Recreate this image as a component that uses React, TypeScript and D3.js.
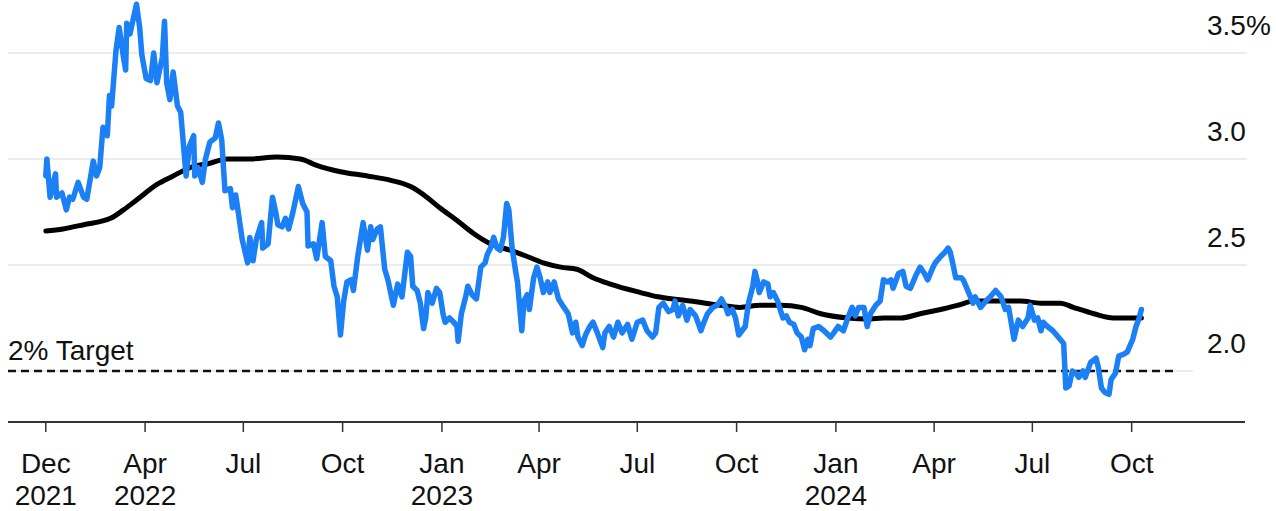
import React, { useEffect, useRef } from "react";
import * as d3 from "d3";

// day offsets from 2021-12-30 and the value in percent
const startDate = Date.UTC(2021, 11, 30);

const breakeven: [number, number][] = [
  [0, 2.92], [1, 3.0], [4, 2.82], [9, 2.93], [10, 2.82], [15, 2.84], [19, 2.76], [22, 2.82], [25, 2.81], [30, 2.89],
  [35, 2.82], [38, 2.81], [44, 2.99], [47, 2.92], [50, 2.96], [53, 3.15], [57, 3.11], [59, 3.3], [61, 3.25], [65, 3.51],
  [68, 3.62], [72, 3.48], [74, 3.42], [75, 3.64], [78, 3.59], [84, 3.73], [87, 3.62], [89, 3.49], [93, 3.38], [97, 3.37],
  [100, 3.5], [103, 3.36], [108, 3.48], [110, 3.65], [112, 3.36], [115, 3.28], [118, 3.41], [122, 3.25], [125, 3.22], [127, 3.1],
  [130, 2.92], [133, 3.06], [137, 3.11], [138, 2.92], [141, 2.96], [145, 2.89], [148, 3.0], [152, 3.08], [157, 3.1], [160, 3.17],
  [163, 3.09], [166, 2.85], [171, 2.86], [173, 2.77], [176, 2.83], [178, 2.76], [182, 2.62], [187, 2.51], [189, 2.63], [192, 2.52],
  [195, 2.62], [200, 2.7], [201, 2.58], [206, 2.6], [210, 2.82], [213, 2.75], [215, 2.69], [219, 2.68], [222, 2.72], [225, 2.67],
  [229, 2.75], [234, 2.87], [238, 2.79], [242, 2.75], [243, 2.59], [248, 2.6], [251, 2.53], [256, 2.7], [259, 2.54], [264, 2.52],
  [267, 2.4], [270, 2.35], [273, 2.17], [276, 2.33], [279, 2.42], [283, 2.43], [285, 2.38], [289, 2.54], [294, 2.7], [298, 2.57],
  [301, 2.68], [303, 2.62], [307, 2.67], [310, 2.68], [314, 2.48], [317, 2.43], [322, 2.31], [326, 2.41], [330, 2.35], [335, 2.56],
  [338, 2.54], [340, 2.4], [344, 2.38], [347, 2.32], [350, 2.2], [352, 2.25], [354, 2.37], [358, 2.32], [362, 2.39], [365, 2.37],
  [368, 2.27], [370, 2.23], [374, 2.25], [378, 2.23], [381, 2.21], [382, 2.14], [385, 2.27], [389, 2.35], [391, 2.4], [395, 2.36],
  [399, 2.34], [403, 2.49], [407, 2.51], [409, 2.55], [412, 2.58], [415, 2.63], [418, 2.58], [421, 2.57], [424, 2.63], [427, 2.79],
  [429, 2.76], [432, 2.58], [435, 2.48], [437, 2.42], [441, 2.19], [443, 2.33], [446, 2.36], [448, 2.29], [452, 2.44], [455, 2.49],
  [458, 2.44], [461, 2.37], [465, 2.42], [467, 2.37], [471, 2.42], [475, 2.34], [480, 2.3], [484, 2.27], [488, 2.18], [491, 2.23],
  [493, 2.16], [497, 2.12], [500, 2.17], [504, 2.21], [507, 2.23], [511, 2.18], [516, 2.11], [518, 2.18], [522, 2.21], [526, 2.16],
  [530, 2.23], [534, 2.18], [539, 2.22], [543, 2.15], [548, 2.23], [553, 2.24], [557, 2.19], [562, 2.16], [565, 2.18], [568, 2.3],
  [572, 2.32], [577, 2.28], [581, 2.29], [583, 2.33], [586, 2.26], [590, 2.31], [594, 2.24], [597, 2.29], [602, 2.26], [607, 2.19],
  [609, 2.22], [613, 2.27], [618, 2.3], [622, 2.31], [626, 2.34], [630, 2.3], [632, 2.27], [636, 2.29], [639, 2.25], [642, 2.17],
  [645, 2.19], [648, 2.21], [651, 2.32], [655, 2.4], [657, 2.47], [659, 2.43], [661, 2.37], [665, 2.42], [669, 2.41], [671, 2.35],
  [674, 2.37], [678, 2.33], [681, 2.28], [683, 2.25], [686, 2.26], [689, 2.23], [693, 2.22], [696, 2.18], [700, 2.16], [703, 2.1],
  [706, 2.15], [708, 2.12], [711, 2.2], [716, 2.21], [721, 2.19], [727, 2.16], [730, 2.18], [734, 2.21], [739, 2.19], [743, 2.25],
  [747, 2.3], [750, 2.26], [753, 2.3], [758, 2.3], [761, 2.21], [764, 2.27], [769, 2.31], [773, 2.33], [776, 2.43], [780, 2.42],
  [783, 2.43], [785, 2.39], [790, 2.46], [794, 2.47], [797, 2.4], [801, 2.39], [806, 2.45], [810, 2.49], [814, 2.46], [817, 2.43],
  [822, 2.49], [824, 2.51], [829, 2.54], [833, 2.56], [836, 2.58], [838, 2.56], [841, 2.49], [843, 2.44], [848, 2.44], [850, 2.43],
  [855, 2.37], [859, 2.32], [861, 2.35], [866, 2.3], [871, 2.33], [875, 2.35], [880, 2.38], [885, 2.35], [889, 2.29], [892, 2.3],
  [897, 2.15], [901, 2.24], [905, 2.21], [910, 2.25], [912, 2.31], [916, 2.24], [919, 2.25], [922, 2.19], [924, 2.23], [928, 2.21],
  [933, 2.19], [938, 2.16], [943, 2.13], [945, 1.92], [948, 1.93], [951, 2.0], [954, 1.99], [957, 1.97], [961, 2.0], [963, 1.97],
  [968, 2.04], [973, 2.06], [975, 2.02], [978, 1.92], [981, 1.9], [985, 1.89], [987, 1.96], [991, 1.99], [994, 2.07], [999, 2.08],
  [1002, 2.09], [1007, 2.15], [1010, 2.21], [1013, 2.25], [1015, 2.29],
];

const movingAvg: [number, number][] = [
  [0, 2.66], [16, 2.67], [35, 2.69], [60, 2.72], [72, 2.76], [85, 2.81], [103, 2.88], [118, 2.92], [134, 2.96], [152, 2.98],
  [168, 3.0], [189, 3.0], [214, 3.01], [236, 3.0], [251, 2.97], [273, 2.94], [298, 2.92], [319, 2.9], [338, 2.87], [353, 2.82],
  [365, 2.77], [381, 2.71], [396, 2.65], [412, 2.6], [430, 2.57], [446, 2.54], [461, 2.51], [477, 2.49], [492, 2.48], [507, 2.44],
  [523, 2.41], [551, 2.37], [567, 2.35], [581, 2.34], [597, 2.33], [625, 2.31], [643, 2.3], [662, 2.31], [681, 2.31], [700, 2.3],
  [718, 2.27], [743, 2.25], [761, 2.245], [776, 2.25], [792, 2.25], [810, 2.27], [829, 2.29], [845, 2.31], [860, 2.33], [878, 2.33],
  [903, 2.33], [922, 2.32], [940, 2.32], [952, 2.3], [971, 2.27], [989, 2.25], [1015, 2.25],
];

const yTicks = [2.5, 3.0, 3.5];
const yLabels = ["2.0", "2.5", "3.0", "3.5%"];
const yLabelValues = [2.0, 2.5, 3.0, 3.5];
const targetValue = 2.0;

const xTickDates = [
  Date.UTC(2021, 11, 30), Date.UTC(2022, 3, 1), Date.UTC(2022, 6, 1), Date.UTC(2022, 9, 1),
  Date.UTC(2023, 0, 1), Date.UTC(2023, 3, 1), Date.UTC(2023, 6, 1), Date.UTC(2023, 9, 1),
  Date.UTC(2024, 0, 1), Date.UTC(2024, 3, 1), Date.UTC(2024, 6, 1), Date.UTC(2024, 9, 1),
];
const xTickMonths = ["Dec", "Apr", "Jul", "Oct", "Jan", "Apr", "Jul", "Oct", "Jan", "Apr", "Jul", "Oct"];
const xTickYears = ["2021", "2022", "", "", "2023", "", "", "", "2024", "", "", ""];

const DAY = 86400000;
const toDate = (d: number) => new Date(startDate + d * DAY);

export default function App() {
  const ref = useRef<SVGSVGElement>(null);

  useEffect(() => {
    const W = 1276, H = 511;
    const left = 8, right = 1245, axisY = 422;
    const font = "'Liberation Sans', Arial, sans-serif";
    const fs = 28;

    const svg = d3.select(ref.current);
    svg.selectAll("*").remove();

    const x = d3.scaleUtc()
      .domain([new Date(Date.UTC(2021, 10, 25)), new Date(Date.UTC(2025, 0, 14))])
      .range([left, right]);
    const y = d3.scaleLinear().domain([2, 3.5]).range([371, 53]);

    // gridlines
    svg.append("g").selectAll("line").data(yTicks).join("line")
      .attr("x1", left).attr("x2", 1247)
      .attr("y1", d => y(d)).attr("y2", d => y(d))
      .attr("stroke", "#e6e6e6").attr("stroke-width", 1.5);
    svg.append("line")
      .attr("x1", left).attr("x2", 1193)
      .attr("y1", y(targetValue)).attr("y2", y(targetValue))
      .attr("stroke", "#e6e6e6").attr("stroke-width", 1.5);

    // y labels
    svg.append("g").selectAll("text").data(yLabelValues).join("text")
      .attr("x", 1207).attr("y", d => y(d) - 18)
      .attr("font-family", font).attr("font-size", fs).attr("fill", "#111")
      .text((d, i) => yLabels[i]);

    // target
    svg.append("line")
      .attr("x1", left).attr("x2", 1178)
      .attr("y1", y(targetValue)).attr("y2", y(targetValue))
      .attr("stroke", "#111").attr("stroke-width", 2.5)
      .attr("stroke-dasharray", "8,5");
    svg.append("text")
      .attr("x", left).attr("y", y(targetValue) - 11)
      .attr("font-family", font).attr("font-size", fs).attr("fill", "#111")
      .text("2% Target");

    // x axis
    svg.append("line")
      .attr("x1", left).attr("x2", right)
      .attr("y1", axisY).attr("y2", axisY)
      .attr("stroke", "#333").attr("stroke-width", 2);
    const ticks = svg.append("g").selectAll("g").data(xTickDates).join("g")
      .attr("transform", d => `translate(${x(new Date(d))},0)`);
    ticks.append("line")
      .attr("y1", axisY).attr("y2", axisY + 10)
      .attr("stroke", "#333").attr("stroke-width", 1.5);
    ticks.append("text")
      .attr("y", 473).attr("text-anchor", "middle")
      .attr("font-family", font).attr("font-size", fs).attr("fill", "#111")
      .text((d, i) => xTickMonths[i]);
    ticks.append("text")
      .attr("y", 505).attr("text-anchor", "middle")
      .attr("font-family", font).attr("font-size", fs).attr("fill", "#111")
      .text((d, i) => xTickYears[i]);

    // lines
    const smooth = d3.line<[number, number]>()
      .x(d => x(toDate(d[0]))).y(d => y(d[1]))
      .curve(d3.curveMonotoneX);
    svg.append("path").datum(movingAvg)
      .attr("d", smooth)
      .attr("fill", "none").attr("stroke", "#000").attr("stroke-width", 5)
      .attr("stroke-linecap", "round");

    const raw = d3.line<[number, number]>()
      .x(d => x(toDate(d[0]))).y(d => y(d[1]));
    svg.append("path").datum(breakeven)
      .attr("d", raw)
      .attr("fill", "none").attr("stroke", "#1b7ff5").attr("stroke-width", 5.5)
      .attr("stroke-linejoin", "round").attr("stroke-linecap", "round");

    svg.attr("width", W).attr("height", H);
  }, []);

  return (
    <svg ref={ref} width={1276} height={511}
      style={{ position: "absolute", left: 0, top: 0, background: "#fff" }} />
  );
}
